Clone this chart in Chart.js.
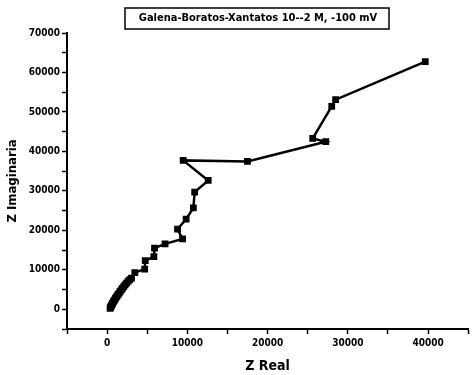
<!DOCTYPE html>
<html>
<head>
<meta charset="utf-8">
<script src="https://cdn.jsdelivr.net/npm/chart.js@4/dist/chart.umd.min.js"></script>
<style>
  html, body { margin: 0; padding: 0; background: #fff; }
  #wrap { width: 473px; height: 375px; }
</style>
</head>
<body>
<div id="wrap"><canvas id="Nyquist"></canvas></div>
<script>
const chartTitle = 'Galena-Boratos-Xantatos 10--2 M, -100 mV';
const xTitle = 'Z Real';
const yTitle = 'Z Imaginaria';

// Z real / Z imaginaria (high frequency near origin)
const zReal = [370, 420, 470, 530, 600, 680, 760, 850, 940, 1040, 1140, 1250, 1370, 1490, 1620,
  1760, 1910, 2070, 2240, 2420, 2620, 2820, 3040, 3450, 4680, 4750, 5830, 5910, 7220, 9400,
  8780, 9850, 10750, 10910, 12600, 9480, 17490, 27250, 25620, 27990, 28480, 39650];
const zImag = [250, 450, 700, 950, 1200, 1500, 1800, 2100, 2400, 2750, 3050, 3400, 3750, 4100, 4500,
  4900, 5300, 5750, 6200, 6650, 7100, 7500, 7870, 9290, 10150, 12340, 13350, 15480, 16570, 17840,
  20300, 22840, 25710, 29700, 32640, 37720, 37460, 42460, 43300, 51420, 53120, 62760];

const xTicks = [0, 10000, 20000, 30000, 40000];
const yTicks = [0, 10000, 20000, 30000, 40000, 50000, 60000, 70000];

const points = zReal.map((x, i) => ({ x: x, y: zImag[i] }));

const FONT = "'DejaVu Sans Condensed', 'Liberation Sans Narrow', sans-serif";

// boxed title, drawn by hand since Chart.js title has no frame
const boxTitle = {
  id: 'boxTitle',
  afterDraw(chart) {
    const ctx = chart.ctx;
    ctx.save();
    ctx.font = 'bold 11px ' + FONT;
    ctx.fillStyle = '#000';
    ctx.textAlign = 'center';
    ctx.textBaseline = 'middle';
    ctx.fillText(chartTitle, 258, 18.5);
    ctx.strokeStyle = '#000';
    ctx.lineWidth = 1.5;
    ctx.strokeRect(125, 8, 264, 21);
    ctx.restore();
  }
};

const ctx = document.getElementById('Nyquist');

const Nyquist = new Chart(ctx, {
  type: 'scatter',
  data: {
    datasets: [{
      label: yTitle,
      data: points,
      showLine: true,
      borderColor: '#000',
      borderWidth: 2.5,
      backgroundColor: '#000',
      pointStyle: 'rect',
      pointRadius: 4.8,
      pointBorderWidth: 0,
      tension: 0
    }]
  },
  options: {
    responsive: true,
    maintainAspectRatio: false,
    animation: false,
    layout: {
      padding: { top: 33, right: 0, left: 0, bottom: 0 }
    },
    plugins: {
      legend: { display: false },
      title: { display: false },
      tooltip: { enabled: false }
    },
    scales: {
      x: {
        type: 'linear',
        min: -5000,
        max: 45000,
        afterFit(scale) { scale.height = 46; },
        border: { display: true, color: '#000', width: 2 },
        grid: {
          drawOnChartArea: false,
          drawTicks: true,
          tickLength: 5,
          tickColor: '#000',
          tickWidth: 1.5
        },
        ticks: {
          stepSize: 5000,
          autoSkip: false,
          maxRotation: 0,
          padding: 3,
          color: '#000',
          font: { family: FONT, size: 10, weight: 'bold' },
          callback: v => xTicks.includes(v) ? String(v) : ''
        },
        title: {
          display: true,
          text: xTitle,
          color: '#000',
          padding: { top: 4, bottom: 0 },
          font: { family: FONT, size: 14, weight: 'bold' }
        }
      },
      y: {
        type: 'linear',
        min: -5000,
        max: 70000,
        afterFit(scale) { scale.width = 67; },
        border: { display: true, color: '#000', width: 2 },
        grid: {
          drawOnChartArea: false,
          drawTicks: true,
          tickLength: 5,
          tickColor: '#000',
          tickWidth: 1.5
        },
        ticks: {
          stepSize: 5000,
          autoSkip: false,
          padding: 2,
          color: '#000',
          font: { family: FONT, size: 10, weight: 'bold' },
          callback: v => yTicks.includes(v) ? String(v) : ''
        },
        title: {
          display: true,
          text: yTitle,
          color: '#000',
          padding: { top: 5, bottom: 0 },
          font: { family: FONT, size: 13, weight: 'bold' }
        }
      }
    }
  },
  plugins: [boxTitle]
});
</script>
</body>
</html>
